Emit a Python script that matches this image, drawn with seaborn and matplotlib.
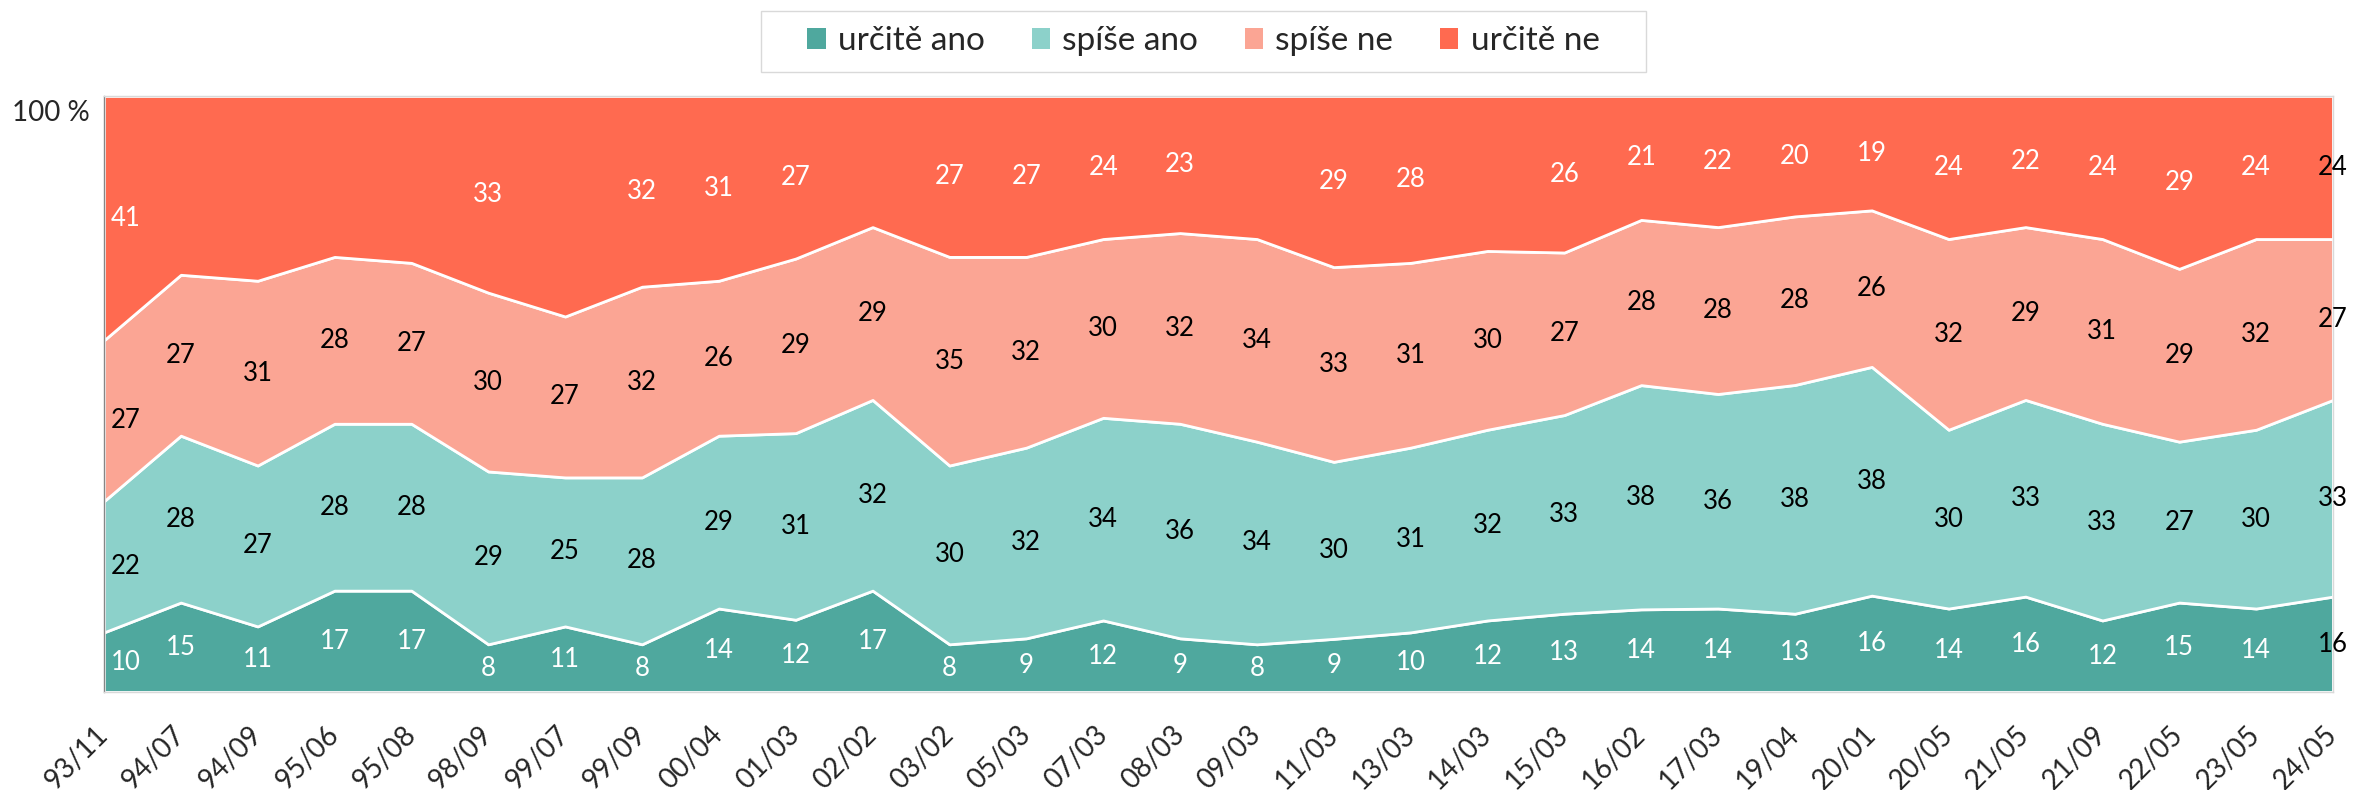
import numpy as np
import pandas as pd
import seaborn as sns
import matplotlib.pyplot as plt
from matplotlib.patches import Patch, Rectangle

# obdobi setreni
obdobi = ['93/11', '94/07', '94/09', '95/06', '95/08', '98/09', '99/07', '99/09', '00/04', '01/03',
          '02/02', '03/02', '05/03', '07/03', '08/03', '09/03', '11/03', '13/03', '14/03', '15/03',
          '16/02', '17/03', '19/04', '20/01', '20/05', '21/05', '21/09', '22/05', '23/05', '24/05']

urcite_ano = [10, 15, 11, 17, 17, 8, 11, 8, 14, 12, 17, 8, 9, 12, 9, 8, 9, 10, 12, 13,
              14, 14, 13, 16, 14, 16, 12, 15, 14, 16]
spise_ano = [22, 28, 27, 28, 28, 29, 25, 28, 29, 31, 32, 30, 32, 34, 36, 34, 30, 31, 32, 33,
             38, 36, 38, 38, 30, 33, 33, 27, 30, 33]
spise_ne = [27, 27, 31, 28, 27, 30, 27, 32, 26, 29, 29, 35, 32, 30, 32, 34, 33, 31, 30, 27,
            28, 28, 28, 26, 32, 29, 31, 29, 32, 27]
urcite_ne = [41, 30, 31, 27, 28, 33, 37, 32, 31, 27, 22, 27, 27, 24, 23, 24, 29, 28, 26, 26,
             21, 22, 20, 19, 24, 22, 24, 29, 24, 24]
# u techto obdobi neni v grafu popisek "určitě ne"
bez_popisku_ne = ['94/07', '94/09', '95/06', '95/08', '99/07', '02/02', '09/03', '14/03']

kategorie = ['určitě ano', 'spíše ano', 'spíše ne', 'určitě ne']
barvy = ['#4FA89E', '#8CD1CA', '#FBA594', '#FF6A50']
barvy_popisku = ['white', 'black', 'black', 'white']

sns.set_theme(style='white')
plt.rcParams['font.family'] = ['Lato', 'DejaVu Sans']

df = pd.DataFrame({'určitě ano': urcite_ano, 'spíše ano': spise_ano,
                   'spíše ne': spise_ne, 'určitě ne': urcite_ne}, index=obdobi)
podily = df.div(df.sum(axis=1), axis=0) * 100  # 100% skladany graf
spodek = podily.cumsum(axis=1) - podily

fig = plt.figure(figsize=(23.57, 7.90), dpi=100)
ax = fig.add_axes([0.0441, 0.1241, 0.9457, 0.7544])
x = np.arange(len(obdobi))
ax.stackplot(x, podily.T.values, colors=sns.color_palette(barvy), edgecolor='white', linewidth=2.0)

# popisky hodnot uprostred pasu
for j, kat in enumerate(kategorie):
    for i, ob in enumerate(obdobi):
        if kat == 'určitě ne' and ob in bez_popisku_ne:
            continue
        y = spodek[kat].iloc[i] + podily[kat].iloc[i] / 2
        barva = barvy_popisku[j]
        ha, dx = 'center', 0
        if i == 0:
            ha, dx = 'left', 5
        if i == len(obdobi) - 1:
            barva = 'black'
        ax.annotate(str(df[kat].iloc[i]), xy=(i, y), xytext=(dx, 0), textcoords='offset points',
                    ha=ha, va='center', color=barva, fontsize=18.5, annotation_clip=False)

ax.set_xlim(0, len(obdobi) - 1)
ax.set_ylim(0, 100)
ax.set_xticks(x)
ax.set_xticklabels(obdobi, rotation=45, ha='right', va='center', rotation_mode='anchor', fontsize=20)
ax.tick_params(axis='x', length=0, pad=28)
ax.set_yticks([])
ax.annotate('100 %', xy=(0, 100), xycoords=('axes fraction', 'data'), xytext=(-10, -12),
            textcoords='offset points', ha='right', va='center', fontsize=20)

for s in ['top', 'right', 'bottom']:
    ax.spines[s].set_color('#D9D9D9')
    ax.spines[s].set_linewidth(1)
ax.spines['left'].set_color('#868686')
ax.spines['left'].set_linewidth(1)

handles = [Patch(facecolor=c, edgecolor='none') for c in barvy]
leg = fig.legend(handles, kategorie, loc='center', bbox_to_anchor=(0.5106, 0.9475), ncol=4,
                 frameon=False, fontsize=24, handlelength=0.55, handleheight=0.58,
                 handletextpad=0.37, columnspacing=1.4, borderpad=0)

# ramecek legendy s vetsim vodorovnym odsazenim
fig.canvas.draw()
bb = leg.get_window_extent()
cy = (bb.y0 + bb.y1) / 2
(x0, y0), (x1, y1) = fig.transFigure.inverted().transform([(bb.x0 - 46, cy - 30.5), (bb.x1 + 46, cy + 30.5)])
fig.add_artist(Rectangle((x0, y0), x1 - x0, y1 - y0, transform=fig.transFigure,
                         fill=False, edgecolor='#D9D9D9', linewidth=1))

fig.savefig('out.png', dpi=100)
